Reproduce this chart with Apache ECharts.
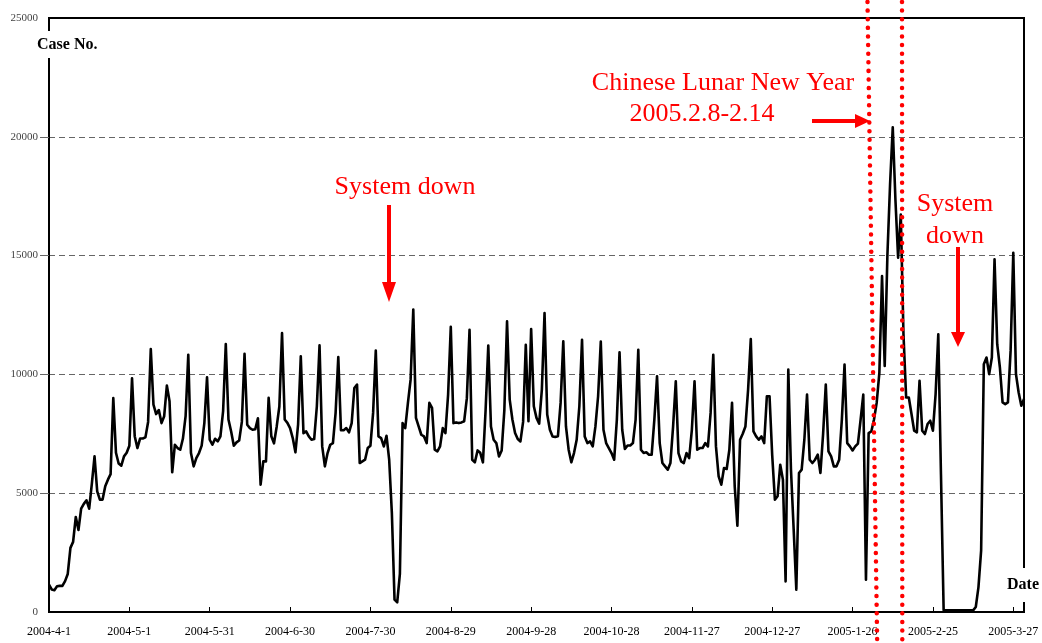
<!DOCTYPE html>
<html><head><meta charset="utf-8">
<script src="https://cdn.jsdelivr.net/npm/echarts@6/dist/echarts.min.js"></script>
<style>html,body{margin:0;padding:0;background:#fff}#c{width:1042px;height:643px}</style>
</head><body><div id="c"></div>
<script>
// First day of the daily series (2004-4-1), one value per day
const startYear = 2004, startMonth = 4, startDay = 1;
// Daily case numbers
const caseNo = [
1150,950,920,1080,1100,1100,1300,1600,2700,2950,
4000,3450,4350,4550,4700,4350,5400,6550,5080,4730,
4730,5290,5570,5800,9000,6700,6250,6160,6550,6700,
7000,9840,7400,6900,7300,7300,7350,8000,11070,8730,
8330,8500,7950,8240,9530,8870,5880,7040,6900,6830,
7300,8240,10830,6690,6130,6480,6690,7000,7950,9880,
7250,7040,7290,7180,7390,8450,11280,8100,7600,7000,
7140,7220,8000,10870,7880,7740,7670,7690,8150,5360,
6340,6340,9010,7400,7100,7800,8650,11740,8100,7960,
7740,7320,6720,7900,10760,7530,7600,7390,7250,7280,
8660,11220,6970,6130,6690,7040,7110,8380,10730,7650,
7650,7740,7560,7950,9430,9570,6270,6340,6410,6900,
7000,8380,11000,7390,7320,6970,7420,6410,4170,520,
410,1600,7950,7740,8800,9780,12730,8170,7810,7460,
7390,7110,8800,8590,6830,6760,6970,7740,7530,9150,
12000,7950,7980,7950,7980,8030,9000,11880,6410,6300,
6800,6700,6300,8500,11210,7810,7250,7110,6550,6800,
8500,12230,8940,8100,7530,7280,7180,8000,11250,8030,
11910,8660,8170,7930,9360,12580,8310,7670,7390,7370,
7400,8800,11390,7810,6830,6300,6690,7250,8660,11460,
7390,7110,7180,6970,7810,9080,11380,7670,7110,6900,
6690,6410,8100,10930,7670,6860,7010,7010,7110,8100,
11040,6830,6690,6720,6620,6620,8100,9920,7110,6270,
6130,5990,6270,7810,9710,6690,6340,6270,6690,6480,
7670,9710,6830,6900,6900,7110,6970,8380,10830,6970,
5710,5360,6060,6020,6830,8800,5290,3630,7250,7500,
7810,9360,11490,7600,7390,7250,7390,7110,9080,9080,
6590,4730,4870,6200,5570,1290,10200,6000,3500,940,
5850,5990,7250,9150,6410,6270,6410,6620,5850,7500,
9570,6760,6550,6130,6130,6410,8100,10410,7110,6970,
6800,6970,7090,8100,9150,1360,7530,7600,8100,8800,
10060,14140,10360,15000,18000,20400,17350,14910,16730,11700,
9030,9030,8330,7630,7560,9730,7630,7490,7910,8050,
7630,9170,11690,5800,70,70,70,70,70,70,
70,70,70,70,70,70,210,1050,2590,10430,
10710,10010,10710,14840,11270,10290,8820,8750,8820,11000,
15120,10010,9240,8680,8960
];
const yTicks = [0, 5000, 10000, 15000, 20000, 25000];
const yAxisName = 'Case No.';
const xAxisName = 'Date';
const notes = {
  mid: 'System down',
  cny1: 'Chinese Lunar New Year',
  cny2: '2005.2.8-2.14',
  right1: 'System',
  right2: 'down'
};

const categories = caseNo.map(function (_, i) {
  const d = new Date(Date.UTC(startYear, startMonth - 1, startDay + i));
  return d.getUTCFullYear() + '-' + (d.getUTCMonth() + 1) + '-' + d.getUTCDate();
});

const serif = '"Liberation Serif", "Times New Roman", serif';
const RED = '#ff0000';

function redText(txt, x, y) {
  return { type: 'text', z: 120, x: x, y: y,
    style: { text: txt, font: '26px ' + serif, fill: RED, align: 'center', verticalAlign: 'middle' } };
}
function shaft(x1, y1, x2, y2) {
  return { type: 'line', z: 120, shape: { x1: x1, y1: y1, x2: x2, y2: y2 },
    style: { stroke: RED, lineWidth: 4 } };
}
function head(points) {
  return { type: 'polygon', z: 120, shape: { points: points }, style: { fill: RED } };
}
function dotted(x1, y1, x2, y2) {
  return { type: 'line', z: 130, shape: { x1: x1, y1: y1, x2: x2, y2: y2 },
    style: { stroke: RED, lineWidth: 4.5, lineDash: [0.01, 8.6], lineCap: 'round' } };
}

const chart = echarts.init(document.getElementById('c'), null, { renderer: 'canvas' });
chart.setOption({
  animation: false,
  backgroundColor: '#fff',
  grid: { left: 49, top: 18, right: 18, bottom: 31, show: true, borderColor: '#000', borderWidth: 2, backgroundColor: 'transparent' },
  xAxis: {
    type: 'category', data: categories, boundaryGap: false,
    axisLine: { show: true, lineStyle: { color: '#000', width: 2 } },
    axisTick: { show: true, inside: true, length: 5, interval: 29, lineStyle: { color: '#000', width: 1 } },
    axisLabel: { interval: 29, color: '#000', fontFamily: serif, fontSize: 12, margin: 14 },
    splitLine: { show: false }
  },
  yAxis: {
    type: 'value', min: yTicks[0], max: yTicks[yTicks.length - 1], interval: yTicks[1] - yTicks[0],
    axisLine: { show: true, lineStyle: { color: '#000', width: 2 } },
    axisTick: { show: true, length: 9, customValues: yTicks.slice(1, -1), lineStyle: { color: '#666', width: 1 } },
    axisLabel: { color: '#444', fontFamily: serif, fontSize: 11, margin: 11,
      formatter: function (v) { return String(v); } },
    splitLine: { show: true, showMinLine: true, showMaxLine: true, lineStyle: { color: '#666', width: 1, type: [6, 4] } }
  },
  series: [{
    type: 'line', data: caseNo, symbol: 'none', showSymbol: false,
    lineStyle: { color: '#000', width: 2.6, join: 'round' }
  }],
  graphic: [
    { type: 'rect', z: 110, shape: { x: 34, y: 31, width: 68, height: 27 }, style: { fill: '#fff' } },
    { type: 'text', z: 111, x: 37, y: 45,
      style: { text: yAxisName, font: 'bold 16px ' + serif, fill: '#000', align: 'left', verticalAlign: 'middle' } },
    { type: 'rect', z: 110, shape: { x: 1003, y: 568, width: 39, height: 34 }, style: { fill: '#fff' } },
    { type: 'text', z: 111, x: 1007, y: 585,
      style: { text: xAxisName, font: 'bold 16px ' + serif, fill: '#000', align: 'left', verticalAlign: 'middle' } },
    redText(notes.mid, 405, 187),
    shaft(389, 205, 389, 285),
    head([[382, 282], [396, 282], [389, 302]]),
    redText(notes.cny1, 723, 83),
    redText(notes.cny2, 702, 114),
    shaft(812, 121, 857, 121),
    head([[855, 114], [855, 128], [870, 121]]),
    redText(notes.right1, 955, 204),
    redText(notes.right2, 955, 236),
    shaft(958, 247, 958, 334),
    head([[951, 332], [965, 332], [958, 347]]),
    dotted(867.5, 2, 877.2, 643),
    dotted(902, 2, 902.3, 643)
  ]
});
</script>
</body></html>
